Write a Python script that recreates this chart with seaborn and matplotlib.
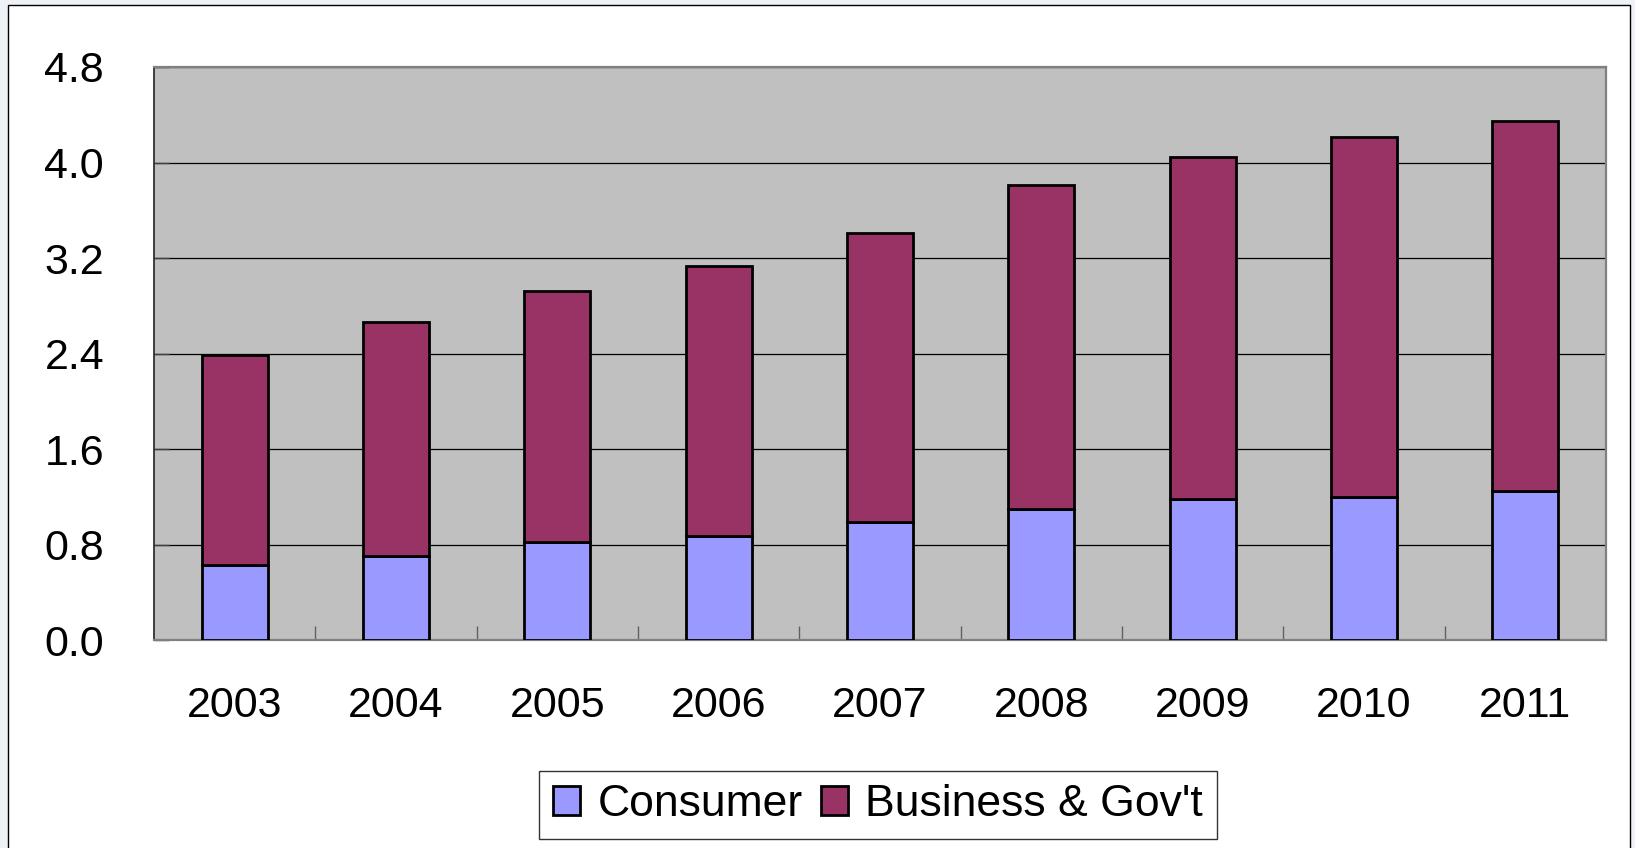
import matplotlib
matplotlib.use("Agg")
import matplotlib.pyplot as plt
from matplotlib.patches import Patch, Rectangle
from matplotlib.ticker import FixedLocator
import numpy as np
import pandas as pd
import seaborn as sns

# Annual spending by segment
years = [2003, 2004, 2005, 2006, 2007, 2008, 2009, 2010, 2011]
consumer = [0.63, 0.70, 0.82, 0.87, 0.99, 1.10, 1.18, 1.20, 1.25]
business_gov = [1.76, 1.96, 2.10, 2.26, 2.42, 2.71, 2.87, 3.01, 3.10]
segments = ["Consumer", "Business & Gov't"]
seg_colors = {"Consumer": "#9999FF", "Business & Gov't": "#993366"}
y_ticks = [0.0, 0.8, 1.6, 2.4, 3.2, 4.0, 4.8]

df = pd.DataFrame({
    "year": years * 2,
    "value": consumer + business_gov,
    "segment": ["Consumer"] * len(years) + ["Business & Gov't"] * len(years),
})

sns.set_theme(style="white")
plt.rcParams["font.family"] = ["Liberation Sans", "DejaVu Sans"]
plt.rcParams["text.color"] = "black"

W, H = 1635, 848
fig = plt.figure(figsize=(W / 100, H / 100), dpi=100, facecolor="#eef1f6")

# white chart card with a thin black border, kept behind the axes
card = Rectangle((8 / W, -0.02), (1630 - 8) / W, 1 - 5 / H + 0.02,
                 transform=fig.transFigure, facecolor="white",
                 edgecolor="black", linewidth=1.0, zorder=-5)
fig.add_artist(card)

ax = fig.add_axes([154 / W, 1 - 640 / H, (1606 - 154) / W, (640 - 67) / H])
ax.set_zorder(1)
ax.set_facecolor("#C0C0C0")

# stacked bars (last hue level sits at the bottom of the stack)
sns.histplot(data=df, x="year", weights="value", hue="segment",
             hue_order=["Business & Gov't", "Consumer"], palette=seg_colors,
             multiple="stack", discrete=True, shrink=0.41, alpha=1,
             edgecolor="black", linewidth=2.0, legend=False, ax=ax, zorder=3)

ax.set_xlim(years[0] - 0.5, years[-1] + 0.5)
ax.set_ylim(y_ticks[0], y_ticks[-1])
ax.set_yticks(y_ticks)
ax.set_yticklabels([f"{v:.1f}" for v in y_ticks])
ax.set_xticks(years)
ax.set_xticklabels([str(y) for y in years])
ax.xaxis.set_minor_locator(FixedLocator(np.arange(years[0] + 0.5, years[-1], 1.0)))
ax.set_xlabel("")
ax.set_ylabel("")

ax.yaxis.grid(True, color="black", linewidth=0.9, zorder=1)
ax.xaxis.grid(False)
ax.set_axisbelow(True)

ax.tick_params(axis="y", which="major", direction="in", length=11, width=1,
               color="#404040", pad=36, labelsize=31, labelcolor="black", left=True)
ax.tick_params(axis="x", which="major", length=0, pad=33, labelsize=31,
               labelcolor="black", bottom=True)
ax.tick_params(axis="x", which="minor", direction="in", length=10, width=1,
               color="#606060", bottom=True)

for side in ["top", "right", "bottom"]:
    ax.spines[side].set_color("#808080")
    ax.spines[side].set_linewidth(1.6)
ax.spines["left"].set_color("#303030")
ax.spines["left"].set_linewidth(1.3)

handles = [Patch(facecolor=seg_colors[s], edgecolor="black", linewidth=2.0, label=s)
           for s in segments]
leg = fig.legend(handles=handles, loc="center", bbox_to_anchor=(878 / W, 1 - 805 / H),
                 ncol=2, fontsize=32, frameon=True, fancybox=False, shadow=False,
                 handlelength=0.62, handleheight=0.62, handletextpad=0.39,
                 columnspacing=0.4, borderpad=0.3, labelcolor="black")
leg.get_frame().set_edgecolor("black")
leg.get_frame().set_linewidth(1.0)
leg.get_frame().set_facecolor("white")

fig.savefig("out.png", dpi=100, facecolor=fig.get_facecolor())
